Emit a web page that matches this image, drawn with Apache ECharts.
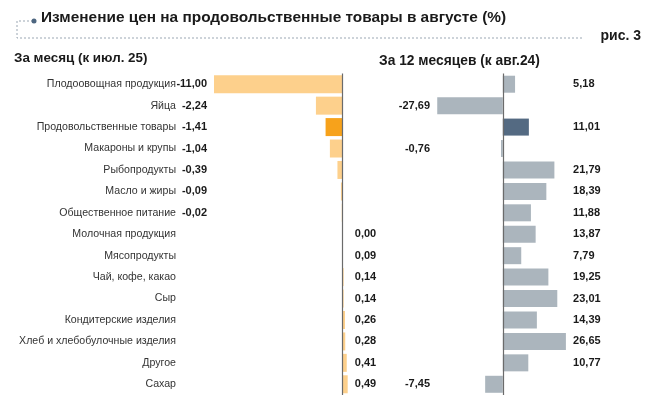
<!DOCTYPE html>
<html><head><meta charset="utf-8">
<script src="https://cdn.jsdelivr.net/npm/echarts@6/dist/echarts.min.js"></script>
<style>html,body{margin:0;padding:0;background:#fff}#c{width:650px;height:395px}</style>
</head><body><div id="c"></div>
<script>
const categories = ['Плодоовощная продукция','Яйца','Продовольственные товары','Макароны и крупы','Рыбопродукты','Масло и жиры','Общественное питание','Молочная продукция','Мясопродукты','Чай, кофе, какао','Сыр','Кондитерские изделия','Хлеб и хлебобулочные изделия','Другое','Сахар'];
const monthValues = [-11.00,-2.24,-1.41,-1.04,-0.39,-0.09,-0.02,0.00,0.09,0.14,0.14,0.26,0.28,0.41,0.49];
const yearValues = [5.18,-27.69,11.01,-0.76,21.79,18.39,11.88,13.87,7.79,19.25,23.01,14.39,26.65,10.77,-7.45];
const highlightIndex = 2;
const titleText = 'Изменение цен на продовольственные товары в августе (%)';
const figText = 'рис. 3';
const leftTitle = 'За месяц (к июл. 25)';
const rightTitle = 'За 12 месяцев (к авг.24)';

const FONT = '"Liberation Sans", Arial, sans-serif';
const fmt = v => v.toFixed(2).replace('.', ',');
const chart = echarts.init(document.getElementById('c'), null, {renderer:'canvas'});

const GT = 73.5, GH = 324;
function catAxis(grid, pos, formatter, margin, rich){
  return {type:'category', gridIndex:grid, data:categories, inverse:true, position:pos,
    axisLine:{show:false}, axisTick:{show:false},
    axisLabel:{interval:0, margin:margin, formatter:formatter, fontFamily:FONT, fontSize:11, color:'#1a1a1a', fontWeight:'bold', rich:rich}};
}
const zeroLine = {silent:true, symbol:['none','none'], label:{show:false}, animation:false,
  lineStyle:{color:'#6b6b6b', width:1.2, type:'solid'}, data:[{xAxis:0}]};

chart.setOption({
  animation:false,
  grid:[
    {left:214, width:133.8, top:GT, height:GH},
    {left:436.5, width:132.6, top:GT, height:GH}
  ],
  xAxis:[
    {type:'value', gridIndex:0, min:-11, max:0.5, show:false, splitLine:{show:false}},
    {type:'value', gridIndex:1, min:-28, max:28, show:false, splitLine:{show:false}}
  ],
  yAxis:[
    catAxis(0,'left',(v,i)=>'{n|'+v+'}{v|'+(monthValues[i]<0?fmt(monthValues[i]):'')+'}',7,
      {n:{fontFamily:FONT,fontSize:10.6,color:'#333',fontWeight:'normal'},
       v:{fontFamily:FONT,fontSize:11,color:'#1a1a1a',fontWeight:'bold',width:31,align:'right'}}),
    catAxis(0,'right',(v,i)=>monthValues[i]>=0?fmt(monthValues[i]):'',7),
    catAxis(1,'left',(v,i)=>yearValues[i]<0?fmt(yearValues[i]):'',6.5),
    catAxis(1,'right',(v,i)=>yearValues[i]>=0?fmt(yearValues[i]):'',4)
  ],
  series:[
    {type:'bar', xAxisIndex:0, yAxisIndex:0, barWidth:18,
     data:monthValues.map((v,i)=>({value:v, itemStyle:{color:i===highlightIndex?'#f7a21b':'#fdd08c'}})),
     markLine:zeroLine},
    {type:'bar', xAxisIndex:1, yAxisIndex:2, barWidth:17,
     data:yearValues.map((v,i)=>({value:v, itemStyle:{color:i===highlightIndex?'#546a82':'#abb5bd'}})),
     markLine:zeroLine}
  ],
  graphic:[
    {type:'polyline', shape:{points:[[33,21],[17,21],[17,38],[583,38]]}, style:{stroke:'#9ba7b3', lineWidth:1, lineDash:[2,2], fill:null}},
    {type:'circle', shape:{cx:34,cy:21,r:2.5}, style:{fill:'#4d6680'}},
    {type:'text', left:41, top:10, style:{text:titleText, font:'bold 15.4px '+FONT, fill:'#1a1a1a'}},
    {type:'text', right:9, top:29, style:{text:figText, font:'bold 14px '+FONT, fill:'#1a1a1a'}},
    {type:'text', left:14, top:52, style:{text:leftTitle, font:'bold 13.4px '+FONT, fill:'#1a1a1a'}},
    {type:'text', left:379, top:54, style:{text:rightTitle, font:'bold 13.8px '+FONT, fill:'#1a1a1a'}}
  ]
});
</script></body></html>
